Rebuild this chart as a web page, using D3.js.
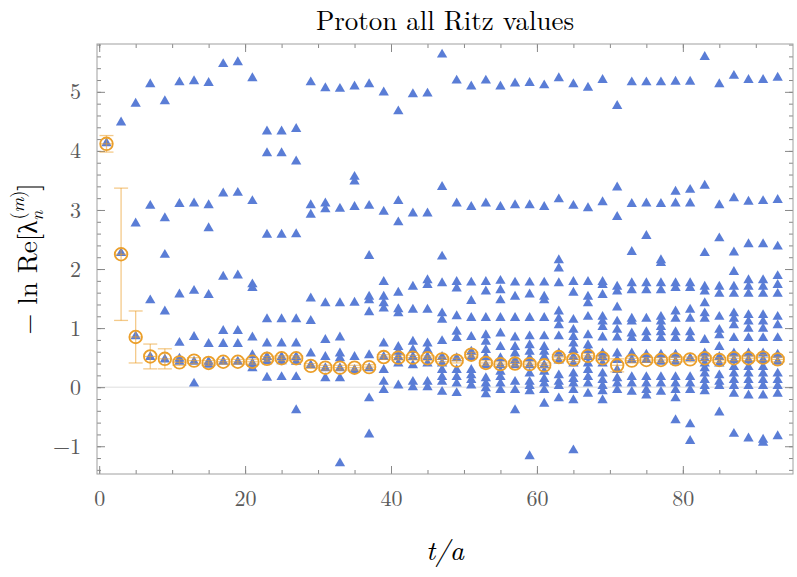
<!DOCTYPE html>
<html>
<head>
<meta charset="utf-8">
<script src="https://cdn.jsdelivr.net/npm/d3@7"></script>
<style>
  body { margin: 0; background: #fff; }
  svg { display: block; }
</style>
</head>
<body>
<script>
// time slices t/a
const times = [1, 3, 5, 7, 9, 11, 13, 15, 17, 19, 21, 23, 25, 27, 29, 31, 33, 35, 37, 39,
  41, 43, 45, 47, 49, 51, 53, 55, 57, 59, 61, 63, 65, 67, 69, 71, 73, 75, 77, 79,
  81, 83, 85, 87, 89, 91, 93];

// all Ritz values -ln Re[lambda] for each time slice
const ritzValues = [
  [4.13],
  [4.48, 2.27],
  [4.80, 2.77, 0.86],
  [5.13, 3.07, 1.47, 0.51],
  [4.84, 2.86, 2.24, 1.28, 0.47],
  [5.16, 3.10, 1.57, 0.75, 0.48, 0.43],
  [5.18, 3.11, 1.63, 0.85, 0.43, 0.06],
  [5.15, 3.08, 2.69, 1.56, 0.73, 0.43, 0.38],
  [5.47, 3.28, 1.87, 0.95, 0.73, 0.43],
  [5.50, 3.29, 1.89, 0.95, 0.73, 0.43],
  [5.23, 3.15, 1.74, 1.68, 0.84, 0.54, 0.40, 0.32],
  [4.33, 3.96, 2.58, 1.15, 0.74, 0.51, 0.44, 0.16],
  [4.33, 3.96, 2.58, 1.15, 0.74, 0.51, 0.44, 0.17],
  [4.37, 3.82, 2.59, 1.15, 0.74, 0.51, 0.43, 0.17, -0.39],
  [5.16, 3.08, 2.92, 1.50, 1.12, 0.57, 0.37],
  [5.06, 3.11, 3.01, 1.42, 0.80, 0.51, 0.32, 0.15],
  [5.05, 3.02, 1.42, 0.84, 0.57, 0.49, 0.32, 0.15, -1.29],
  [5.09, 3.56, 3.48, 3.05, 1.43, 0.51, 0.29],
  [5.13, 3.07, 2.22, 1.53, 1.47, 1.27, 0.54, 0.32, -0.19, -0.80],
  [4.99, 2.97, 1.78, 1.53, 1.42, 1.33, 0.74, 0.51, 0.29, 0.09, -0.05],
  [4.67, 3.15, 2.79, 1.60, 1.32, 1.25, 0.68, 0.60, 0.51, 0.40, 0.03],
  [4.96, 2.94, 1.70, 1.31, 0.77, 0.63, 0.51, 0.37, 0.09, 0.00],
  [4.97, 2.94, 1.81, 1.73, 1.31, 0.74, 0.63, 0.51, 0.40, 0.09, 0.00],
  [5.63, 3.39, 2.21, 1.76, 1.25, 1.14, 0.78, 0.51, 0.40, 0.29, 0.17, 0.09, -0.08],
  [5.19, 3.11, 1.78, 1.67, 1.20, 0.94, 0.83, 0.49, 0.29, 0.17, 0.06, -0.10],
  [5.09, 3.05, 1.77, 1.46, 1.17, 0.85, 0.60, 0.51, 0.29, 0.20, 0.12, 0.03],
  [5.19, 3.11, 1.78, 1.62, 1.17, 0.88, 0.77, 0.63, 0.51, 0.37, 0.15, 0.06, -0.02, -0.12],
  [5.09, 3.05, 1.80, 1.64, 1.47, 1.17, 0.91, 0.68, 0.49, 0.37, 0.26, 0.17, 0.06, -0.05],
  [5.14, 3.08, 1.77, 1.53, 1.17, 0.84, 0.68, 0.57, 0.45, 0.37, 0.09, -0.05, -0.39],
  [5.15, 3.08, 1.77, 1.57, 1.17, 0.86, 0.71, 0.60, 0.49, 0.37, 0.23, 0.09, 0.02, -0.07, -1.17],
  [5.11, 3.05, 1.77, 1.53, 1.47, 1.17, 0.86, 0.68, 0.60, 0.51, 0.37, 0.26, 0.14, 0.06, -0.05, -0.28],
  [5.23, 3.18, 2.15, 2.01, 1.76, 1.28, 1.16, 1.05, 0.86, 0.57, 0.45, 0.20, 0.09, 0.02, -0.19],
  [5.13, 3.07, 1.78, 1.60, 1.14, 0.97, 0.85, 0.74, 0.63, 0.51, 0.40, 0.23, 0.14, 0.06, -0.05, -0.22, -1.07],
  [5.07, 3.03, 1.78, 1.53, 1.42, 1.19, 0.88, 0.71, 0.63, 0.51, 0.40, 0.29, 0.17, 0.06, -0.11],
  [5.20, 3.13, 1.78, 1.73, 1.56, 1.19, 1.11, 1.02, 0.84, 0.57, 0.51, 0.40, 0.23, 0.12, 0.02, -0.07, -0.22],
  [4.76, 3.38, 2.88, 1.70, 1.62, 1.35, 1.11, 0.97, 0.84, 0.57, 0.46, 0.29, 0.15, 0.06, -0.05],
  [5.16, 3.10, 2.29, 1.76, 1.64, 1.16, 1.11, 0.91, 0.83, 0.57, 0.46, 0.17, 0.06, -0.08],
  [5.16, 3.11, 2.56, 1.76, 1.64, 1.16, 0.93, 0.83, 0.55, 0.46, 0.17, 0.06, -0.05, -0.14],
  [5.16, 3.10, 2.15, 2.10, 1.76, 1.64, 1.19, 1.11, 1.02, 0.93, 0.83, 0.55, 0.43, 0.17, 0.06, -0.08],
  [5.17, 3.31, 3.11, 1.76, 1.68, 1.28, 1.16, 0.93, 0.83, 0.55, 0.43, 0.17, 0.06, -0.05, -0.19, -0.56],
  [5.17, 3.34, 3.11, 1.76, 1.68, 1.31, 1.16, 0.93, 0.83, 0.49, 0.17, 0.06, -0.05, -0.63, -0.91],
  [5.59, 3.41, 2.27, 1.70, 1.62, 1.42, 1.25, 1.16, 0.80, 0.57, 0.49, 0.40, 0.32, 0.23, 0.12, 0.02, -0.07],
  [5.13, 3.08, 2.52, 1.70, 1.58, 1.19, 0.97, 0.88, 0.68, 0.51, 0.40, 0.20, 0.09, 0.02, -0.43],
  [5.27, 3.20, 2.28, 1.95, 1.70, 1.58, 1.25, 1.16, 1.05, 0.83, 0.57, 0.46, 0.34, 0.23, 0.12, 0.02, -0.11, -0.79],
  [5.20, 3.14, 2.42, 1.81, 1.70, 1.58, 1.22, 1.11, 0.99, 0.83, 0.57, 0.46, 0.34, 0.23, 0.12, 0.02, -0.14, -0.87],
  [5.20, 3.15, 2.42, 1.81, 1.70, 1.58, 1.22, 1.11, 0.99, 0.83, 0.57, 0.46, 0.34, 0.23, 0.12, 0.02, -0.14, -0.89, -0.94],
  [5.24, 3.17, 2.38, 1.88, 1.73, 1.58, 1.19, 1.05, 0.83, 0.55, 0.43, 0.23, 0.12, 0.02, -0.11, -0.83]
];

// ground state estimate and its error
const estimate = [4.12, 2.25, 0.85, 0.52, 0.48, 0.42, 0.45, 0.41, 0.43, 0.43,
  0.43, 0.48, 0.49, 0.49, 0.36, 0.33, 0.33, 0.33, 0.34, 0.51,
  0.50, 0.50, 0.49, 0.47, 0.45, 0.55, 0.41, 0.39, 0.40, 0.39,
  0.37, 0.51, 0.47, 0.53, 0.49, 0.37, 0.45, 0.46, 0.46, 0.47,
  0.47, 0.49, 0.46, 0.49, 0.49, 0.50, 0.47];
const estimateErr = [0.14, 1.12, 0.44, 0.21, 0.17, 0.05, 0.05, 0.04, 0.04, 0.04,
  0.04, 0.04, 0.04, 0.04, 0.04, 0.04, 0.04, 0.04, 0.04, 0.04,
  0.04, 0.04, 0.04, 0.04, 0.04, 0.04, 0.04, 0.04, 0.04, 0.04,
  0.04, 0.04, 0.04, 0.04, 0.04, 0.11, 0.04, 0.04, 0.04, 0.04,
  0.04, 0.04, 0.04, 0.04, 0.04, 0.05, 0.04];

const xTicks = [0, 20, 40, 60, 80];
const yTicks = [-1, 0, 1, 2, 3, 4, 5];

const W = 797, H = 577;
const pLeft = 97, pRight = 793, pTop = 44, pBottom = 474;
const serif = "'Latin Modern Roman', 'Liberation Serif', 'DejaVu Serif', serif";
const blue = "#5a7dd6", orange = "#eb9f2a";

const svg = d3.select("body")
  .append("svg")
  .attr("width", W)
  .attr("height", H);

const x = d3.scaleLinear().domain([-0.3, 95.1]).range([pLeft, pRight]);
const y = d3.scaleLinear().domain([-1.47, 5.81]).range([pBottom, pTop]);

// zero line
svg.append("line")
  .attr("x1", pLeft).attr("x2", pRight)
  .attr("y1", y(0)).attr("y2", y(0))
  .attr("stroke", "#dedede")
  .attr("stroke-width", 1);

// ticks (inward, on all four sides)
const xMinor = d3.range(0, 95, 5);
const yMinor = d3.range(-1.4, 5.81, 0.2);

function tickStyle(g) {
  g.select(".domain").remove();
  g.selectAll(".tick line").attr("stroke", "#888");
  g.selectAll(".tick text")
    .attr("fill", "#5a5a5a")
    .style("font-family", serif)
    .style("font-size", "22px");
}

svg.append("g").attr("transform", `translate(0,${pBottom})`)
  .call(d3.axisBottom(x).tickValues(xMinor).tickSize(-4).tickFormat(""))
  .call(tickStyle);
svg.append("g").attr("transform", `translate(0,${pBottom})`)
  .call(d3.axisBottom(x).tickValues(xTicks).tickSize(-8).tickPadding(16).tickFormat(d3.format("d")))
  .call(tickStyle);
svg.append("g").attr("transform", `translate(0,${pTop})`)
  .call(d3.axisTop(x).tickValues(xMinor).tickSize(-4).tickFormat(""))
  .call(tickStyle);
svg.append("g").attr("transform", `translate(0,${pTop})`)
  .call(d3.axisTop(x).tickValues(xTicks).tickSize(-8).tickFormat(""))
  .call(tickStyle);

svg.append("g").attr("transform", `translate(${pLeft},0)`)
  .call(d3.axisLeft(y).tickValues(yMinor).tickSize(-4).tickFormat(""))
  .call(tickStyle);
svg.append("g").attr("transform", `translate(${pLeft},0)`)
  .call(d3.axisLeft(y).tickValues(yTicks).tickSize(-8).tickPadding(16)
    .tickFormat(d => d < 0 ? "\u2212" + Math.abs(d) : d))
  .call(tickStyle);
svg.append("g").attr("transform", `translate(${pRight},0)`)
  .call(d3.axisRight(y).tickValues(yMinor).tickSize(-4).tickFormat(""))
  .call(tickStyle);
svg.append("g").attr("transform", `translate(${pRight},0)`)
  .call(d3.axisRight(y).tickValues(yTicks).tickSize(-8).tickFormat(""))
  .call(tickStyle);

// frame
svg.append("rect")
  .attr("x", pLeft).attr("y", pTop)
  .attr("width", pRight - pLeft).attr("height", pBottom - pTop)
  .attr("fill", "none")
  .attr("stroke", "#a0a0a0")
  .attr("stroke-width", 1);

// all Ritz values as triangles
const points = times.flatMap((t, i) => ritzValues[i].map(v => ({t, v})));
const tri = d3.symbol().type(d3.symbolTriangle).size(46);

svg.append("g")
  .selectAll("path")
  .data(points)
  .enter()
  .append("path")
  .attr("d", tri)
  .attr("transform", d => `translate(${x(d.t)},${y(d.v)})`)
  .attr("fill", blue);

// estimate with error bars
const est = times.map((t, i) => ({t, v: estimate[i], e: estimateErr[i]}));
const eg = svg.append("g")
  .selectAll("g")
  .data(est)
  .enter()
  .append("g")
  .attr("transform", d => `translate(${x(d.t)},0)`);

eg.append("line")
  .attr("y1", d => y(d.v - d.e)).attr("y2", d => y(d.v + d.e))
  .attr("stroke", orange).attr("stroke-opacity", 0.55).attr("stroke-width", 1.3);
eg.append("line")
  .attr("x1", -7).attr("x2", 7)
  .attr("y1", d => y(d.v + d.e)).attr("y2", d => y(d.v + d.e))
  .attr("stroke", orange).attr("stroke-opacity", 0.55).attr("stroke-width", 1.3);
eg.append("line")
  .attr("x1", -7).attr("x2", 7)
  .attr("y1", d => y(d.v - d.e)).attr("y2", d => y(d.v - d.e))
  .attr("stroke", orange).attr("stroke-opacity", 0.55).attr("stroke-width", 1.3);
eg.append("line")
  .attr("x1", -6.3).attr("x2", 6.3)
  .attr("y1", d => y(d.v)).attr("y2", d => y(d.v))
  .attr("stroke", orange).attr("stroke-opacity", 0.6).attr("stroke-width", 1.2);
eg.append("circle")
  .attr("cy", d => y(d.v))
  .attr("r", 6.3)
  .attr("fill", "none")
  .attr("stroke", orange)
  .attr("stroke-width", 1.8);

// title and axis labels
svg.append("text")
  .attr("x", (pLeft + pRight) / 2)
  .attr("y", 30)
  .attr("text-anchor", "middle")
  .style("font-family", serif)
  .style("font-size", "27px")
  .text("Proton all Ritz values");

svg.append("text")
  .attr("x", (pLeft + pRight) / 2)
  .attr("y", 560)
  .attr("text-anchor", "middle")
  .style("font-family", serif)
  .style("font-style", "italic")
  .style("font-size", "28px")
  .text("t/a");

const yl = svg.append("text")
  .attr("transform", `translate(37,${(pTop + pBottom) / 2}) rotate(-90)`)
  .attr("text-anchor", "middle")
  .style("font-family", serif)
  .style("font-size", "27px");
yl.append("tspan").text("\u2212 ln Re[\u03bb");
yl.append("tspan").attr("dy", 6).style("font-size", "18px").style("font-style", "italic").text("n");
yl.append("tspan").attr("dx", -9).attr("dy", -19).style("font-size", "18px").text("(");
yl.append("tspan").style("font-size", "18px").style("font-style", "italic").text("m");
yl.append("tspan").style("font-size", "18px").text(")");
yl.append("tspan").attr("dy", 13).text("]");
</script>
</body>
</html>
